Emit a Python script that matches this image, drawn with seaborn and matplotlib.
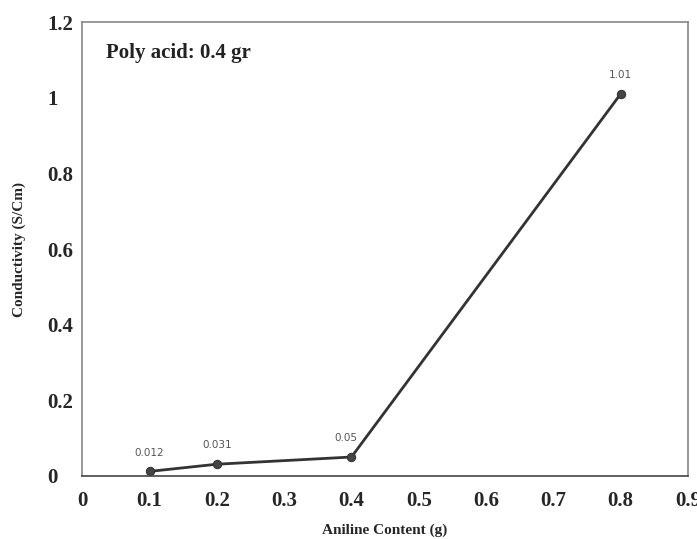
import matplotlib
matplotlib.use("Agg")
import matplotlib.pyplot as plt
import seaborn as sns
import pandas as pd

aniline = [0.1, 0.2, 0.4, 0.8]
conductivity = [0.012, 0.031, 0.05, 1.01]
point_labels = ["0.012", "0.031", "0.05", "1.01"]
x_ticks = [0, 0.1, 0.2, 0.3, 0.4, 0.5, 0.6, 0.7, 0.8, 0.9]
y_ticks = [0, 0.2, 0.4, 0.6, 0.8, 1.0, 1.2]
y_tick_labels = ["0", "0.2", "0.4", "0.6", "0.8", "1", "1.2"]

sns.set_theme(style="white")
plt.rcParams["font.family"] = ["Liberation Serif", "DejaVu Serif"]

df = pd.DataFrame({"Aniline": aniline, "Conductivity": conductivity})

fig = plt.figure(figsize=(6.97, 5.39), dpi=100)
ax = fig.add_axes([0.118, 0.117, 0.869, 0.842])

sns.lineplot(data=df, x="Aniline", y="Conductivity", ax=ax, color="#333333",
             linewidth=2, marker="o", markersize=6, markeredgecolor="#333333",
             markerfacecolor="#444444")

offsets = [(0, 10), (0, 10), (-4, 10), (0, 10)]
for xv, yv, lab, off in zip(aniline, conductivity, point_labels, offsets):
    ax.annotate(lab, (xv, yv), xytext=off, textcoords="offset points",
                ha="center", va="bottom", fontsize=7.5, color="#555555",
                family=["DejaVu Sans"])

ax.set_xlim(0, 0.9)
ax.set_ylim(0, 1.2)
ax.set_xticks(x_ticks)
ax.set_xticklabels([f"{t:g}" for t in x_ticks])
ax.set_yticks(y_ticks)
ax.set_yticklabels(y_tick_labels)
ax.tick_params(axis="both", length=0, labelsize=15)
ax.tick_params(axis="x", pad=11)
ax.tick_params(axis="y", pad=25)
for lab in ax.get_xticklabels() + ax.get_yticklabels():
    lab.set_fontweight("bold")
for lab in ax.get_yticklabels():
    lab.set_horizontalalignment("left")

ax.set_xlabel("Aniline Content (g)", fontsize=11, fontweight="bold", labelpad=9)
ax.set_ylabel("Conductivity (S/Cm)", fontsize=11, fontweight="bold")
ax.yaxis.set_label_coords(-0.093, 0.5)

ax.text(0.04, 0.955, "Poly acid: 0.4 gr", transform=ax.transAxes, fontsize=15,
        fontweight="bold", ha="left", va="top", color="#222222")

for s in ax.spines.values():
    s.set_color("#888888")
    s.set_linewidth(1.2)
ax.spines["bottom"].set_color("#444444")

fig.savefig("out.png", dpi=100)
